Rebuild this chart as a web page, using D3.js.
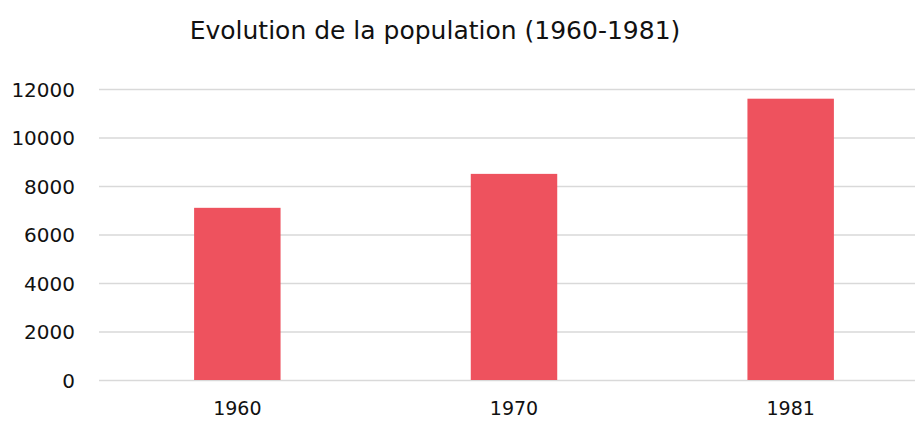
<!DOCTYPE html>
<html>
<head>
<meta charset="utf-8">
<script src="https://cdn.jsdelivr.net/npm/d3@7"></script>
<style>
  body { margin: 0; background: #fff; }
  text { font-family: "DejaVu Sans", sans-serif; fill: #111; }
</style>
</head>
<body>
<div id="chart"></div>
<script>
// population by census year
var years = ["1960", "1970", "1981"];
var population = [7100, 8500, 11600];
var yTicks = [0, 2000, 4000, 6000, 8000, 10000, 12000];

var w = 915, h = 421;
var margin = {top: 89, right: -14, bottom: 41, left: 99};

var svg = d3.select("#chart").append("svg")
    .attr("width", w)
    .attr("height", h);

var x = d3.scaleBand()
    .domain(years)
    .range([margin.left, w - margin.right])
    .paddingInner(0.6875)
    .paddingOuter(0.34375);

var y = d3.scaleLinear()
    .domain([0, 12000])
    .range([h - margin.bottom, margin.top]);

// gridlines
var yAxis = d3.axisLeft(y)
    .tickValues(yTicks)
    .tickSize(-(w - margin.right - margin.left))
    .tickPadding(24)
    .tickFormat(d3.format("d"));

var gy = svg.append("g")
    .attr("transform", "translate(" + margin.left + ",0)")
    .call(yAxis);
gy.select(".domain").remove();
gy.selectAll(".tick line")
    .attr("stroke", "#d9d9d9")
    .attr("stroke-width", 1.5);
gy.selectAll(".tick text")
    .style("font-size", "20px")
    .attr("dy", "0.35em");

svg.selectAll(".bar")
    .data(population)
    .enter().append("rect")
    .attr("class", "bar")
    .attr("x", function (d, i) { return x(years[i]); })
    .attr("y", function (d) { return y(d); })
    .attr("width", x.bandwidth())
    .attr("height", function (d) { return y(0) - y(d); })
    .attr("fill", "#ee525e");

var xAxis = d3.axisBottom(x).tickSize(0).tickPadding(22);
var gx = svg.append("g")
    .attr("transform", "translate(0," + y(0) + ")")
    .call(xAxis);
gx.select(".domain").remove();
gx.selectAll(".tick text").style("font-size", "19px");

svg.append("text")
    .attr("x", 435)
    .attr("y", 39)
    .attr("text-anchor", "middle")
    .style("font-size", "25px")
    .text("Evolution de la population (1960-1981)");
</script>
</body>
</html>
